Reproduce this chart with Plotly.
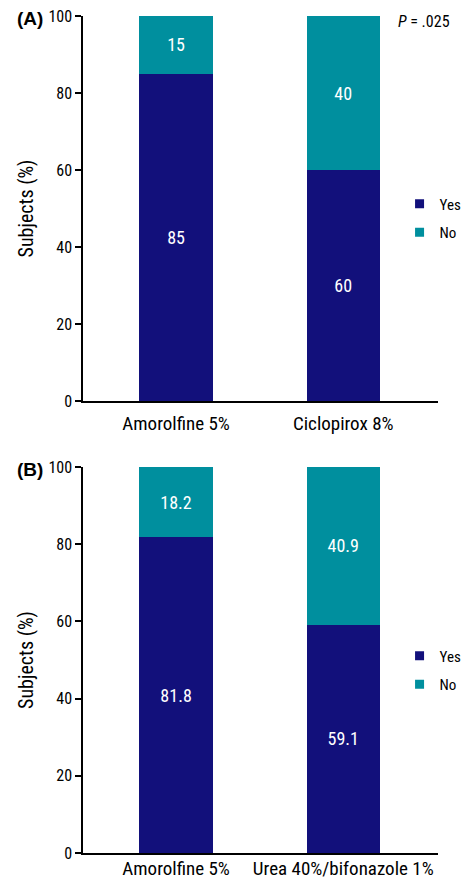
import plotly.graph_objects as go

# Data
categories_a = ["Amorolfine 5%", "Ciclopirox 8%"]
yes_a = [85, 60]
no_a = [15, 40]
categories_b = ["Amorolfine 5%", "Urea 40%/bifonazole 1%"]
yes_b = [81.8, 59.1]
no_b = [18.2, 40.9]
yticks = [0, 20, 40, 60, 80, 100]

NAVY = "#12107B"
TEAL = "#008F9E"
FONT = "Roboto Condensed, DejaVu Sans Condensed, sans-serif"

# page has an 8px body margin; figure sized to fit the 475x887 window without scrollbars
OFF = 8
W, H = 475 - 2 * OFF, 887 - 2 * OFF
pos = [0, 1]
XMIN, XMAX = -0.556, 1.567


def px(v):
    return (v - OFF) / W


def py(v):
    return 1 - (v - OFF) / H


fig = go.Figure()


def add_panel(yes, no, xa, ya, leg):
    for vals, name, col in ((yes, "Yes", NAVY), (no, "No", TEAL)):
        fig.add_trace(go.Bar(x=pos, y=vals, name=name, marker_color=col, width=0.438,
                             marker_line_width=0,
                             text=[f"{v:g}" for v in vals], textposition="inside",
                             insidetextanchor="middle", textangle=0,
                             textfont=dict(color="white", size=18, family=FONT),
                             xaxis=xa, yaxis=ya, showlegend=False))
    for name, col in (("Yes", NAVY), ("No", TEAL)):
        fig.add_trace(go.Scatter(x=[None], y=[None], mode="markers", name=name,
                                 marker=dict(symbol="square", size=9, color=col),
                                 xaxis=xa, yaxis=ya, legend=leg, legendgroup=name,
                                 showlegend=True))


add_panel(yes_a, no_a, "x", "y", "legend")
add_panel(yes_b, no_b, "x2", "y2", "legend2")

xdom = [px(88), px(466)]
ydom_a = [py(401), py(16)]
ydom_b = [py(853), py(467)]

xcommon = dict(range=[XMIN, XMAX], tickvals=pos, showline=True, linecolor="black",
               linewidth=1.5, ticks="", showgrid=False, zeroline=False, automargin=False,
               ticklabeloverflow="allow",
               tickfont=dict(size=19, family=FONT, color="black"))
ycommon = dict(range=[0, 100], tickvals=yticks, showline=True, linecolor="black",
               linewidth=1.5, ticks="outside", ticklen=6, tickwidth=1.5, tickcolor="black",
               showgrid=False, zeroline=False, automargin=False, ticklabeloverflow="allow",
               tickfont=dict(size=16, family=FONT, color="black"),
               title=dict(text="Subjects (%)", font=dict(size=20, family=FONT, color="black"),
                          standoff=9))

legcommon = dict(xanchor="left", yanchor="middle", traceorder="grouped",
                 font=dict(size=15, family=FONT, color="black"),
                 bgcolor="rgba(0,0,0,0)", itemwidth=30, tracegroupgap=6)

fig.update_layout(
    width=W, height=H, margin=dict(l=0, r=0, t=0, b=0),
    paper_bgcolor="white", plot_bgcolor="white", barmode="stack",
    font=dict(family=FONT, color="black"),
    xaxis=dict(domain=xdom, anchor="y", ticktext=categories_a, ticklabelstandoff=4, **xcommon),
    yaxis=dict(domain=ydom_a, anchor="x", **ycommon),
    xaxis2=dict(domain=xdom, anchor="y2", ticktext=categories_b, ticklabelstandoff=-3, **xcommon),
    yaxis2=dict(domain=ydom_b, anchor="x2", **ycommon),
    legend=dict(x=px(425), y=py(218), **legcommon),
    legend2=dict(x=px(425), y=py(670), **legcommon),
    shapes=[
        dict(type="line", xref=xa, yref=ya, x0=XMAX, x1=XMAX, ysizemode="pixel",
             yanchor=0, y0=0, y1=-6, line=dict(color="black", width=1.5))
        for xa, ya in (("x", "y"), ("x2", "y2"))
    ],
    annotations=[
        dict(text="<b>(A)</b>", x=px(15), y=py(18), xref="paper", yref="paper",
             xanchor="left", yanchor="middle", showarrow=False,
             font=dict(size=19, family="Liberation Sans, Arial, sans-serif", color="black")),
        dict(text="<b>(B)</b>", x=px(15), y=py(469), xref="paper", yref="paper",
             xanchor="left", yanchor="middle", showarrow=False,
             font=dict(size=19, family="Liberation Sans, Arial, sans-serif", color="black")),
        dict(text="<i>P</i> = .025", x=px(421), y=py(21), xref="paper", yref="paper",
             xanchor="left", yanchor="middle", showarrow=False,
             font=dict(size=16, family=FONT, color="black")),
    ],
)

fig.write_html("out.html")
